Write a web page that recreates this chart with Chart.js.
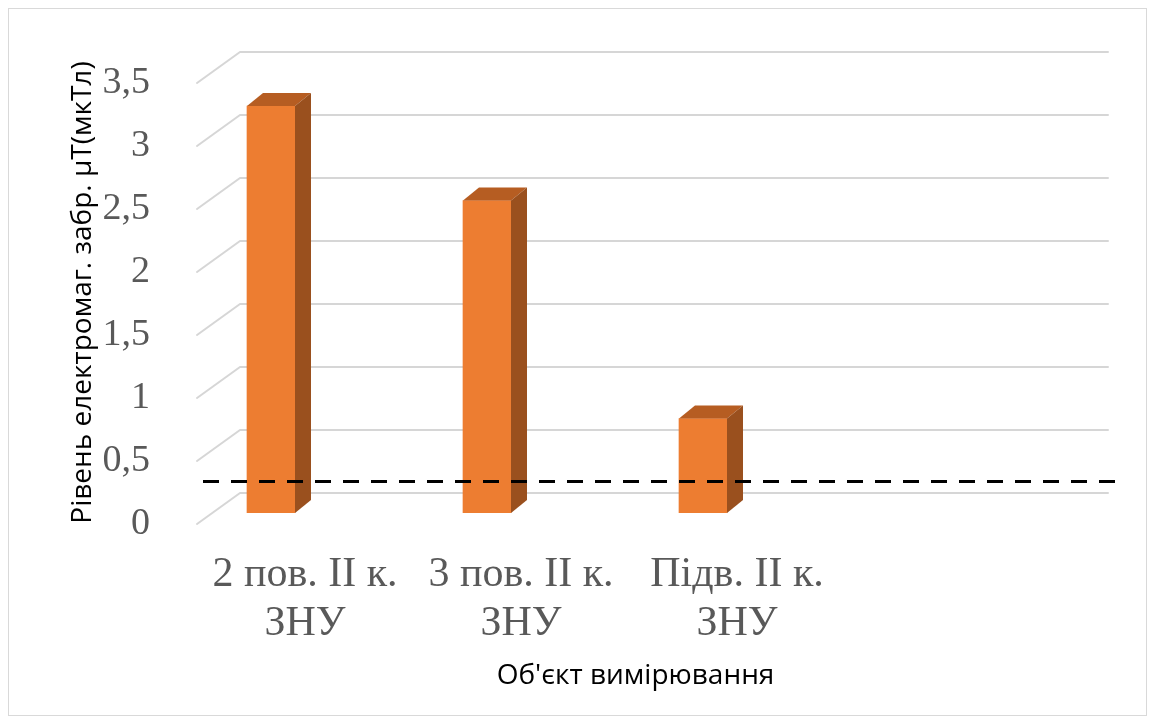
<!DOCTYPE html>
<html lang="uk">
<head>
<meta charset="utf-8">
<title>Рівень електромагнітного забруднення</title>
<script src="https://cdn.jsdelivr.net/npm/chart.js@4/dist/chart.umd.min.js"></script>
<style>
  html, body { margin: 0; padding: 0; background: #fff; }
  canvas { display: block; }
</style>
</head>
<body>
<canvas id="chart" width="1155" height="724"></canvas>
<script>
// Measured objects (category labels split over two lines)
const categories = [
  ['2 пов. II к.', 'ЗНУ'],
  ['3 пов. II к.', 'ЗНУ'],
  ['Підв. II к.', 'ЗНУ']
];
// Magnetic flux density, μT
const values = [3.23, 2.48, 0.75];
// Permissible level shown as the dashed reference line, μT
const limitValue = 0.25;
// Value axis range and step
const yMin = 0;
const yMax = 3.5;
const yStep = 0.5;

const axisTitleY = 'Рівень електромаг. забр. μТ(мкТл)';
const axisTitleX = "Об'єкт вимірювання";

// Pseudo-3D look: column extrusion and the back wall / floor offsets
const BAR_DEPTH = { dx: 16, dy: 13 };
const WALL = { frontInset: 34, backInset: 77, rise: 20, drop: 11 };
const COLORS = {
  front: '#ED7D31',
  top: '#B65D22',
  side: '#9A501E',
  grid: '#d6d6d6',
  frame: '#d9d9d9',
  tick: '#595959'
};

const perspective = {
  id: 'perspective',
  beforeDraw(chart) {
    const { ctx, width, height } = chart;
    ctx.save();
    ctx.fillStyle = '#fff';
    ctx.fillRect(0, 0, width, height);
    ctx.strokeStyle = COLORS.frame;
    ctx.lineWidth = 1;
    ctx.strokeRect(8.5, 8.5, width - 17, height - 17);
    ctx.restore();
  },
  beforeDatasetsDraw(chart) {
    const { ctx, chartArea: a, scales: { y } } = chart;
    const frontX = a.left + WALL.frontInset;
    const backX = a.left + WALL.backInset;
    ctx.save();
    ctx.lineCap = 'round';
    ctx.lineJoin = 'round';
    ctx.strokeStyle = COLORS.grid;
    ctx.lineWidth = 2;
    y.ticks.forEach(t => {
      const py = y.getPixelForValue(t.value);
      ctx.beginPath();
      ctx.moveTo(frontX, py + WALL.drop);
      ctx.lineTo(backX, py - WALL.rise);
      ctx.lineTo(a.right, py - WALL.rise);
      ctx.stroke();
    });
    ctx.restore();
  },
  afterDatasetsDraw(chart) {
    const { ctx, chartArea: a, scales: { y } } = chart;
    const { dx, dy } = BAR_DEPTH;
    ctx.save();
    chart.getDatasetMeta(0).data.forEach(bar => {
      const { x, y: top, base, width } = bar.getProps(['x', 'y', 'base', 'width'], true);
      const l = x - width / 2;
      const r = x + width / 2;
      // top face
      ctx.fillStyle = COLORS.top;
      ctx.beginPath();
      ctx.moveTo(l, top);
      ctx.lineTo(l + dx, top - dy);
      ctx.lineTo(r + dx, top - dy);
      ctx.lineTo(r, top);
      ctx.closePath();
      ctx.fill();
      // right side face
      ctx.fillStyle = COLORS.side;
      ctx.beginPath();
      ctx.moveTo(r, top);
      ctx.lineTo(r + dx, top - dy);
      ctx.lineTo(r + dx, base - dy);
      ctx.lineTo(r, base);
      ctx.closePath();
      ctx.fill();
    });
    // dashed limit line in front of the columns
    const py = y.getPixelForValue(limitValue);
    ctx.strokeStyle = '#000';
    ctx.lineWidth = 3;
    ctx.setLineDash([16, 12]);
    ctx.beginPath();
    ctx.moveTo(a.left + 40, py);
    ctx.lineTo(a.right + 7, py);
    ctx.stroke();
    ctx.restore();
  }
};

new Chart(document.getElementById('chart'), {
  type: 'bar',
  data: {
    datasets: [{
      data: values.map((v, i) => ({ x: i, y: v })),
      backgroundColor: COLORS.front,
      borderWidth: 0,
      barThickness: 48
    }]
  },
  options: {
    responsive: false,
    animation: false,
    devicePixelRatio: 1,
    layout: { padding: { top: 72, left: 56, right: 47, bottom: 0 } },
    plugins: { legend: { display: false }, tooltip: { enabled: false } },
    scales: {
      x: {
        type: 'linear',
        position: 'bottom',
        min: -0.5,
        max: 3.875,
        offset: false,
        grid: { display: false },
        border: { display: false },
        afterFit(s) { s.height = 211; },
        ticks: {
          stepSize: 1,
          includeBounds: false,
          autoSkip: false,
          maxRotation: 0,
          labelOffset: 34,
          padding: 29,
          color: COLORS.tick,
          font: { family: '"Liberation Serif", "Times New Roman", serif', size: 42, lineHeight: 1.17 },
          callback: v => categories[v] || ''
        },
        title: {
          display: true,
          text: axisTitleX,
          color: '#000',
          padding: { top: 0, bottom: 31 },
          font: { family: '"Open Sans", sans-serif', size: 28, lineHeight: 1.2 }
        }
      },
      y: {
        min: yMin,
        max: yMax,
        grid: { display: false },
        border: { display: false },
        afterFit(s) { s.width = 107; },
        ticks: {
          stepSize: yStep,
          padding: 5,
          labelOffset: 11,
          color: COLORS.tick,
          font: { family: '"Liberation Serif", "Times New Roman", serif', size: 38 },
          callback: v => String(v).replace('.', ',')
        },
        title: {
          display: true,
          text: axisTitleY,
          color: '#000',
          padding: { top: 10, bottom: 0 },
          font: { family: '"Open Sans", sans-serif', size: 28, lineHeight: 1.2 }
        }
      }
    }
  },
  plugins: [perspective]
});
</script>
</body>
</html>
